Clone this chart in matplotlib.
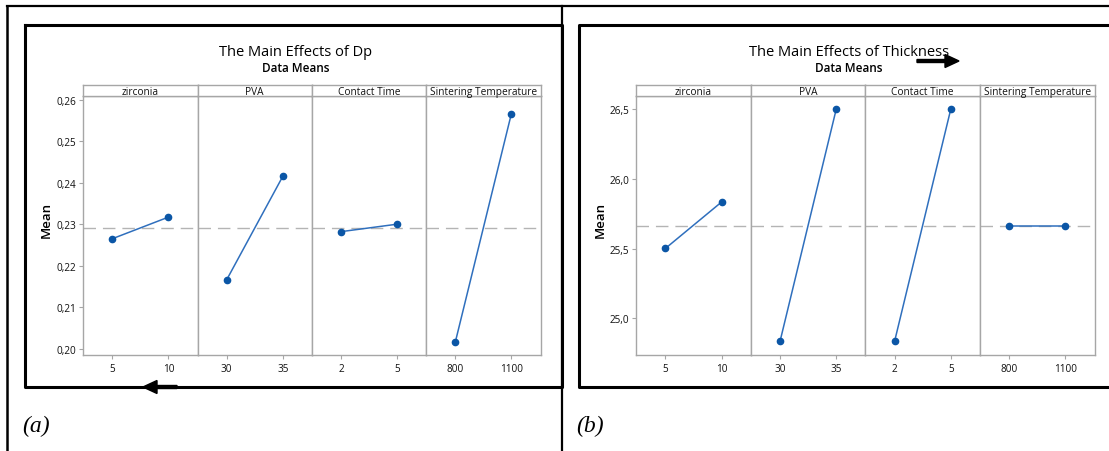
import numpy as np
import matplotlib
matplotlib.use('Agg')
import matplotlib.pyplot as plt
from matplotlib.patches import FancyArrow

W, H = 1109, 452

# factors and levels (same for both plots)
factors = ['zirconia', 'PVA', 'Contact Time', 'Sintering Temperature']
levels = [['5', '10'], ['30', '35'], ['2', '5'], ['800', '1100']]

# (a) main effects of Dp
dp_means = [[0.2265, 0.2317], [0.2166, 0.2415], [0.2282, 0.2300], [0.2016, 0.2566]]
dp_overall = 0.2291
dp_ticks = [0.20, 0.21, 0.22, 0.23, 0.24, 0.25, 0.26]
dp_ticklabels = ['0,20', '0,21', '0,22', '0,23', '0,24', '0,25', '0,26']

# (b) main effects of thickness
thk_means = [[25.502, 25.835], [24.835, 26.50], [24.835, 26.50], [25.665, 25.665]]
thk_overall = 25.665
thk_ticks = [25.0, 25.5, 26.0, 26.5]
thk_ticklabels = ['25,0', '25,5', '26,0', '26,5']

plt.rcParams['font.family'] = ['Open Sans', 'DejaVu Sans']

GRAY = '#a6a6a6'
DASH = '#b4b4b4'
DOT = '#0b56a6'
LINE = '#2f6fbd'
TXT = '#111111'


def px(x0, y0, x1, y1):
    # pixel box (top-left origin) -> figure fraction rect
    return [x0 / W, 1 - y1 / H, (x1 - x0) / W, (y1 - y0) / H]


def main_effects(fig, left, right, ylim, means, overall, ticks, ticklabels,
                 title, cx, ylab_x):
    n = len(factors)
    pw = (right - left) / n
    for i in range(n):
        x0 = left + i * pw
        ax = fig.add_axes(px(x0, 97, x0 + pw, 356))
        ax.plot([0, 1], means[i], color=LINE, lw=1.1, zorder=3)
        ax.plot([0, 1], means[i], 'o', color=DOT, ms=4.5, zorder=4)
        ax.axhline(overall, color=DASH, lw=1.0, ls=(0, (9, 5)), zorder=1)
        ax.set_xlim(-0.52, 1.52)
        ax.set_ylim(*ylim)
        ax.set_xticks([0, 1])
        ax.set_xticklabels(levels[i])
        for s in ax.spines.values():
            s.set_color(GRAY)
            s.set_linewidth(1.0)
        ax.tick_params(axis='x', length=3, color=GRAY, labelsize=7.2,
                       labelcolor=TXT, pad=3)
        if i == 0:
            ax.set_yticks(ticks)
            ax.set_yticklabels(ticklabels)
            ax.tick_params(axis='y', length=3, color=GRAY, labelsize=7.2,
                           labelcolor=TXT, pad=2)
        else:
            ax.set_yticks([])

        # strip header
        st = fig.add_axes(px(x0, 86, x0 + pw, 97))
        st.set_xticks([])
        st.set_yticks([])
        for s in st.spines.values():
            s.set_color(GRAY)
            s.set_linewidth(1.0)
        st.text(0.5, 0.45, factors[i], ha='center', va='center',
                fontsize=7.3, color=TXT, transform=st.transAxes)

    fig.text(cx / W, 1 - 52 / H, title, ha='center', va='center',
             fontsize=10.5, color='black')
    fig.text(cx / W, 1 - 69 / H, 'Data Means', ha='center', va='center',
             fontsize=8.5, fontweight='semibold', color='black')
    fig.text(ylab_x / W, 1 - 220 / H, 'Mean', ha='center', va='center',
             rotation=90, fontsize=9.5, fontweight='semibold', color='black')


fig = plt.figure(figsize=(W / 100, H / 100), dpi=100)

main_effects(fig, 83.2, 540.5, (0.19848, 0.26089), dp_means, dp_overall,
             dp_ticks, dp_ticklabels, 'The Main Effects of Dp', 296, 46)
main_effects(fig, 636.3, 1094.5, (24.7365, 26.5955), thk_means, thk_overall,
             thk_ticks, thk_ticklabels, 'The Main Effects of Thickness', 849, 600)

# frame of the page / table around the figures
ov = fig.add_axes([0, 0, 1, 1], zorder=10)
ov.set_xlim(0, W)
ov.set_ylim(H, 0)
ov.axis('off')
ov.plot([7, W], [7, 7], color='k', lw=1.6)
ov.plot([7, 7], [7, H], color='k', lw=1.8)
ov.plot([562, 562], [7, H], color='k', lw=1.6)
ov.plot([25, 562, 562, 25, 25], [26, 26, 388, 388, 26], color='k', lw=2.2)
ov.plot([W + 5, 579, 579, W + 5], [26, 26, 388, 388], color='k', lw=2.2)

ov.add_patch(FancyArrow(177, 388, -34, 0, width=3, head_width=13, head_length=14,
                        length_includes_head=True, color='k'))
ov.add_patch(FancyArrow(917, 62, 42, 0, width=3, head_width=13, head_length=14,
                        length_includes_head=True, color='k'))

ov.text(22, 426, '(a)', ha='left', va='center', fontsize=17, style='italic',
        family='Liberation Serif')
ov.text(576, 426, '(b)', ha='left', va='center', fontsize=17, style='italic',
        family='Liberation Serif')

fig.savefig('out.png', dpi=100)
